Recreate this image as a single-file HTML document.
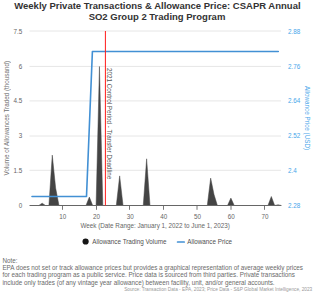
<!DOCTYPE html>
<html><head><meta charset="utf-8">
<style>
html,body{margin:0;padding:0;background:#fff;width:320px;height:297px;overflow:hidden;position:relative}
.v{position:absolute;writing-mode:vertical-rl;font-size:6.3px;line-height:7px;white-space:nowrap;font-family:"Liberation Sans",sans-serif}
svg{display:block;position:absolute;left:0;top:0;font-family:"Liberation Sans",sans-serif}
</style></head><body>
<svg width="320" height="297" viewBox="0 0 320 297">
<g font-weight="bold" font-size="9.5" fill="#333" text-anchor="middle">
<text x="157.4" y="9.4">Weekly Private Transactions &amp; Allowance Price: CSAPR Annual</text>
<text x="157" y="20.25">SO2 Group 2 Trading Program</text>
</g>
<g stroke="#e6e6e6" stroke-width="1">
<line x1="29.5" x2="281" y1="31.00" y2="31.00"/>
<line x1="29.5" x2="281" y1="66.40" y2="66.40"/>
<line x1="29.5" x2="281" y1="100.90" y2="100.90"/>
<line x1="29.5" x2="281" y1="136.00" y2="136.00"/>
<line x1="29.5" x2="281" y1="170.30" y2="170.30"/>
</g>
<g stroke="#777" stroke-width="1">
<line x1="62.50" x2="62.50" y1="205.5" y2="209.8"/>
<line x1="96.50" x2="96.50" y1="205.5" y2="209.8"/>
<line x1="129.50" x2="129.50" y1="205.5" y2="209.8"/>
<line x1="163.50" x2="163.50" y1="205.5" y2="209.8"/>
<line x1="197.00" x2="197.00" y1="205.5" y2="209.8"/>
<line x1="231.00" x2="231.00" y1="205.5" y2="209.8"/>
<line x1="264.50" x2="264.50" y1="205.5" y2="209.8"/>
</g>
<path fill="#444" stroke="#444" stroke-width="0.5" d="M32.05,205.50 L32.05,205.50 L35.42,205.50 L38.79,205.50 L42.16,203.18 L45.53,205.50 L48.90,205.50 L52.27,155.11 L55.64,188.10 L59.01,205.50 L62.38,205.50 L65.75,205.50 L69.12,205.50 L72.49,205.50 L75.86,205.50 L79.23,205.50 L82.60,205.50 L85.97,205.50 L89.34,197.10 L92.71,205.50 L96.08,205.50 L99.45,66.53 L102.82,205.50 L106.19,205.50 L109.56,205.50 L112.93,205.50 L116.30,205.50 L119.67,175.90 L123.04,205.50 L126.41,205.50 L129.78,205.50 L133.15,205.50 L136.52,205.50 L139.89,205.50 L143.26,205.50 L146.63,158.80 L150.00,205.50 L153.37,205.50 L156.74,205.50 L160.11,205.50 L163.48,205.50 L166.85,205.50 L170.22,205.50 L173.59,205.50 L176.96,205.50 L180.33,205.50 L183.70,205.50 L187.07,205.50 L190.44,205.50 L193.81,205.50 L197.18,205.50 L200.55,205.50 L203.92,205.50 L207.29,205.50 L210.66,178.12 L214.03,194.60 L217.40,205.50 L220.77,205.50 L224.14,205.50 L227.51,205.50 L230.88,198.10 L234.25,205.50 L237.62,205.50 L240.99,205.50 L244.36,205.50 L247.73,205.50 L251.10,205.50 L254.47,205.50 L257.84,205.50 L261.21,205.50 L264.58,205.50 L267.95,205.50 L271.32,196.50 L274.69,205.50 L278.06,204.80 L281.43,205.50 L281.43,205.50 Z"/>
<line x1="29.5" x2="281" y1="205.5" y2="205.5" stroke="#666" stroke-width="1"/>
<polyline fill="none" stroke="#4290d4" stroke-width="1.6" stroke-linejoin="round" stroke-linecap="round" points="32,196.5 86.5,196.5 92.4,51.5 278.3,51.5"/>
<line x1="105.4" x2="105.4" y1="31" y2="205.5" stroke="#ff1a1a" stroke-width="1"/>
<g font-size="6.3" fill="#666" text-anchor="end">
<text x="22.2" y="34">7.5</text>
<text x="22.2" y="69">6</text>
<text x="22.2" y="103">4.5</text>
<text x="22.2" y="138">3</text>
<text x="22.2" y="173">1.5</text>
<text x="22.2" y="208">0</text>
</g>
<g font-size="6.3" fill="#48a6ea">
<text x="288" y="34">2.88</text>
<text x="288" y="69">2.76</text>
<text x="288" y="103">2.64</text>
<text x="288" y="138">2.52</text>
<text x="288" y="173">2.4</text>
<text x="288" y="208">2.28</text>
</g>
<g font-size="6.3" fill="#666" text-anchor="middle">
<text x="62.78" y="218.9">10</text>
<text x="96.48" y="218.9">20</text>
<text x="130.18" y="218.9">30</text>
<text x="163.88" y="218.9">40</text>
<text x="197.58" y="218.9">50</text>
<text x="231.28" y="218.9">60</text>
<text x="264.98" y="218.9">70</text>
</g>
<text font-size="6.3" fill="#666" text-anchor="middle" x="155.15" y="227.8">Week (Date Range: January 1, 2022 to June 1, 2023)</text>
<circle cx="85.6" cy="241.5" r="3.1" fill="#151515"/>
<text font-size="6.3" fill="#505050" x="92.3" y="244.1">Allowance Trading Volume</text>
<line x1="177.6" x2="184.2" y1="242" y2="242" stroke="#4290d4" stroke-width="1.7" stroke-linecap="round"/>
<text font-size="6.3" fill="#505050" x="187.3" y="244.1">Allowance Price</text>
<g font-size="6.3" fill="#6a6a6a">
<text x="2.4" y="262.8">Note:</text>
<text x="2.4" y="270.0">EPA does not set or track allowance prices but provides a graphical representation of average weekly prices</text>
<text x="2.4" y="277.3">for each trading program as a public service. Price data is sourced from third parties. Private transactions</text>
<text x="2.4" y="284.6">include only trades (of any vintage year allowance) between facility, unit, and/or general accounts.</text>
</g>
<text font-size="4.75" fill="#999" text-anchor="end" x="312.25" y="290.6">Source: Transaction Data - EPA, 2023; Price Data - S&amp;P Global Market Intelligence, 2023</text>
</svg>
<div class="v" style="left:3px;top:60.7px;color:#707070;transform:rotate(180deg)">Volume of Allowances Traded (thousand)</div>
<div class="v" style="left:303.8px;top:86px;color:#48a6ea">Allowance Price (USD)</div>
<div class="v" style="left:106px;top:68.3px;color:#555">2021 Control Period - Transfer Deadline</div>
</body></html>
